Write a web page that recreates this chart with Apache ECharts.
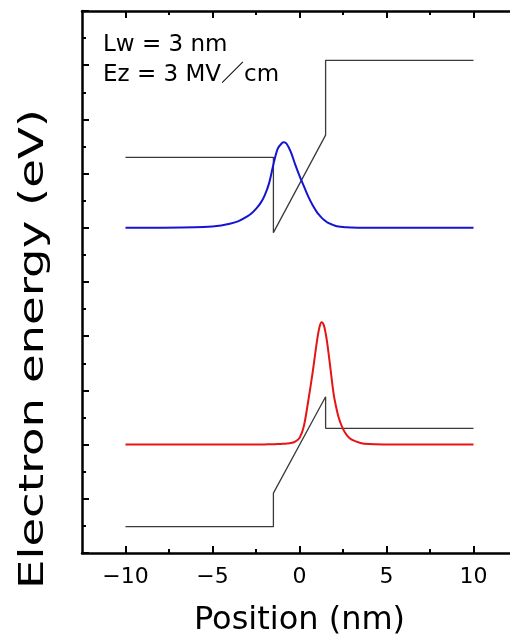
<!DOCTYPE html>
<html>
<head>
<meta charset="utf-8">
<script src="https://cdn.jsdelivr.net/npm/echarts@6/dist/echarts.min.js"></script>
<style>
  html, body { margin: 0; padding: 0; background: #ffffff; }
  #chart { width: 510px; height: 637px; }
</style>
</head>
<body>
<div id="chart"></div>
<script>
// Position axis ticks (nm)
const positionTicks = [-10, -5, 0, 5, 10];
const positionMinorTicks = [-7.5, -2.5, 2.5, 7.5];

// Band-edge profiles of the 3 nm well under a 3 MV/cm field (eV)
const conductionX = [-10, -1.5, -1.5, 1.5, 1.5, 10];
const conductionE = [3.65, 3.65, 2.955, 3.855, 4.545, 4.545];
const valenceX = [-10, -1.5, -1.5, 1.5, 1.5, 10];
const valenceE = [0.243, 0.243, 0.552, 1.442, 1.15, 1.15];

// Probability densities, drawn on top of their subband energies (eV)
const waveX = [-10, -8, -6, -5, -4.5, -4, -3.5, -3, -2.75, -2.5, -2.25, -2, -1.75, -1.5,
  -1.25, -1, -0.9, -0.75, -0.5, -0.25, 0, 0.25, 0.5, 0.75, 1, 1.15, 1.28, 1.4, 1.5, 1.6,
  1.75, 1.9, 2, 2.25, 2.5, 2.75, 3, 3.5, 4, 5, 6, 8, 10];
const electronWave = [3.000, 3.001, 3.005, 3.013, 3.022, 3.037, 3.062, 3.105, 3.135, 3.175,
  3.225, 3.300, 3.410, 3.585, 3.730, 3.783, 3.790, 3.778, 3.700, 3.585, 3.480, 3.385, 3.290,
  3.210, 3.145, 3.115, 3.092, 3.074, 3.062, 3.051, 3.038, 3.028, 3.022, 3.012, 3.007, 3.004,
  3.002, 3.001, 3.000, 3.000, 3.000, 3.000, 3.000];
const holeWave = [1.000, 1.000, 1.000, 1.000, 1.000, 1.000, 1.000, 1.001, 1.001, 1.001,
  1.002, 1.002, 1.003, 1.004, 1.005, 1.007, 1.008, 1.010, 1.014, 1.028, 1.060, 1.170, 1.400,
  1.660, 1.950, 2.085, 2.128, 2.100, 2.030, 1.930, 1.740, 1.540, 1.430, 1.250, 1.145, 1.080,
  1.045, 1.015, 1.005, 1.001, 1.000, 1.000, 1.000];

const pairs = (xs, ys) => xs.map((x, i) => [x, ys[i]]);
const fmtMinus = v => String(v).replace('-', '\u2212');

const FONT = "'DejaVu Sans', 'Noto Sans CJK JP', sans-serif";
const AXIS_COLOR = '#000000';

const chart = echarts.init(document.getElementById('chart'), null, { renderer: 'canvas' });

function xAxisDef(position, values, tickLen, showLine, showLabel) {
  return {
    type: 'value', position: position, min: -12.5, max: 12.5,
    axisLine: { show: showLine, onZero: false, lineStyle: { color: AXIS_COLOR, width: 2.5 } },
    axisTick: { show: true, inside: true, length: tickLen, customValues: values,
      lineStyle: { color: AXIS_COLOR, width: 2 } },
    axisLabel: { show: showLabel, customValues: values, formatter: fmtMinus, margin: 13,
      color: '#000', fontSize: 22, fontFamily: FONT },
    splitLine: { show: false }
  };
}

function yAxisDef(position, showLine) {
  return {
    type: 'value', position: position, min: 0, max: 5, interval: 0.5,
    axisLine: { show: showLine, onZero: false, lineStyle: { color: AXIS_COLOR, width: 2.5 } },
    axisTick: { show: true, inside: true, length: 7, lineStyle: { color: AXIS_COLOR, width: 2 } },
    minorTick: { show: true, splitNumber: 2, length: 4, lineStyle: { color: AXIS_COLOR, width: 2 } },
    axisLabel: { show: false },
    splitLine: { show: false }
  };
}

const xBottom = xAxisDef('bottom', positionTicks, 7, true, true);
xBottom.name = 'Position (nm)';
xBottom.nameLocation = 'middle';
xBottom.nameGap = 52;
xBottom.nameTextStyle = { color: '#000', fontSize: 32, fontFamily: FONT };

const option = {
  animation: false,
  backgroundColor: '#ffffff',
  grid: { left: 82, top: 11, width: 435, height: 542, outerBoundsMode: 'none' },
  xAxis: [
    xBottom,
    xAxisDef('bottom', positionMinorTicks, 4, false, false),
    xAxisDef('top', positionTicks, 7, true, false),
    xAxisDef('top', positionMinorTicks, 4, false, false)
  ],
  // the right-hand frame edge lies just past the canvas; only its tick ends show
  yAxis: [yAxisDef('left', true), yAxisDef('right', false)],
  graphic: [
    { type: 'text', left: 103, top: 34, silent: true,
      style: { text: 'Lw = 3 nm', font: '23px ' + FONT, fill: '#000' } },
    { type: 'text', left: 103, top: 64, silent: true,
      style: { text: 'Ez = 3 MV\uFF0Fcm', font: '23px ' + FONT, fill: '#000' } },
    { type: 'text', x: 34, y: 349, rotation: Math.PI / 2, scaleX: 1.37, silent: true,
      style: { text: 'Electron energy (eV)', font: '34px ' + FONT, fill: '#000',
        align: 'center', verticalAlign: 'middle' } }
  ],
  series: [
    { type: 'line', name: 'Conduction band', xAxisIndex: 0, yAxisIndex: 0,
      data: pairs(conductionX, conductionE), symbol: 'none',
      lineStyle: { color: '#3a3a3a', width: 1.3 } },
    { type: 'line', name: 'Valence band', xAxisIndex: 0, yAxisIndex: 0,
      data: pairs(valenceX, valenceE), symbol: 'none',
      lineStyle: { color: '#3a3a3a', width: 1.3 } },
    { type: 'line', name: 'Electron', xAxisIndex: 0, yAxisIndex: 0,
      data: pairs(waveX, electronWave), symbol: 'none', smooth: 0.3,
      lineStyle: { color: '#1414d2', width: 2 } },
    { type: 'line', name: 'Hole', xAxisIndex: 0, yAxisIndex: 0,
      data: pairs(waveX, holeWave), symbol: 'none', smooth: 0.3,
      lineStyle: { color: '#e61414', width: 2 } }
  ]
};

chart.setOption(option);
</script>
</body>
</html>
